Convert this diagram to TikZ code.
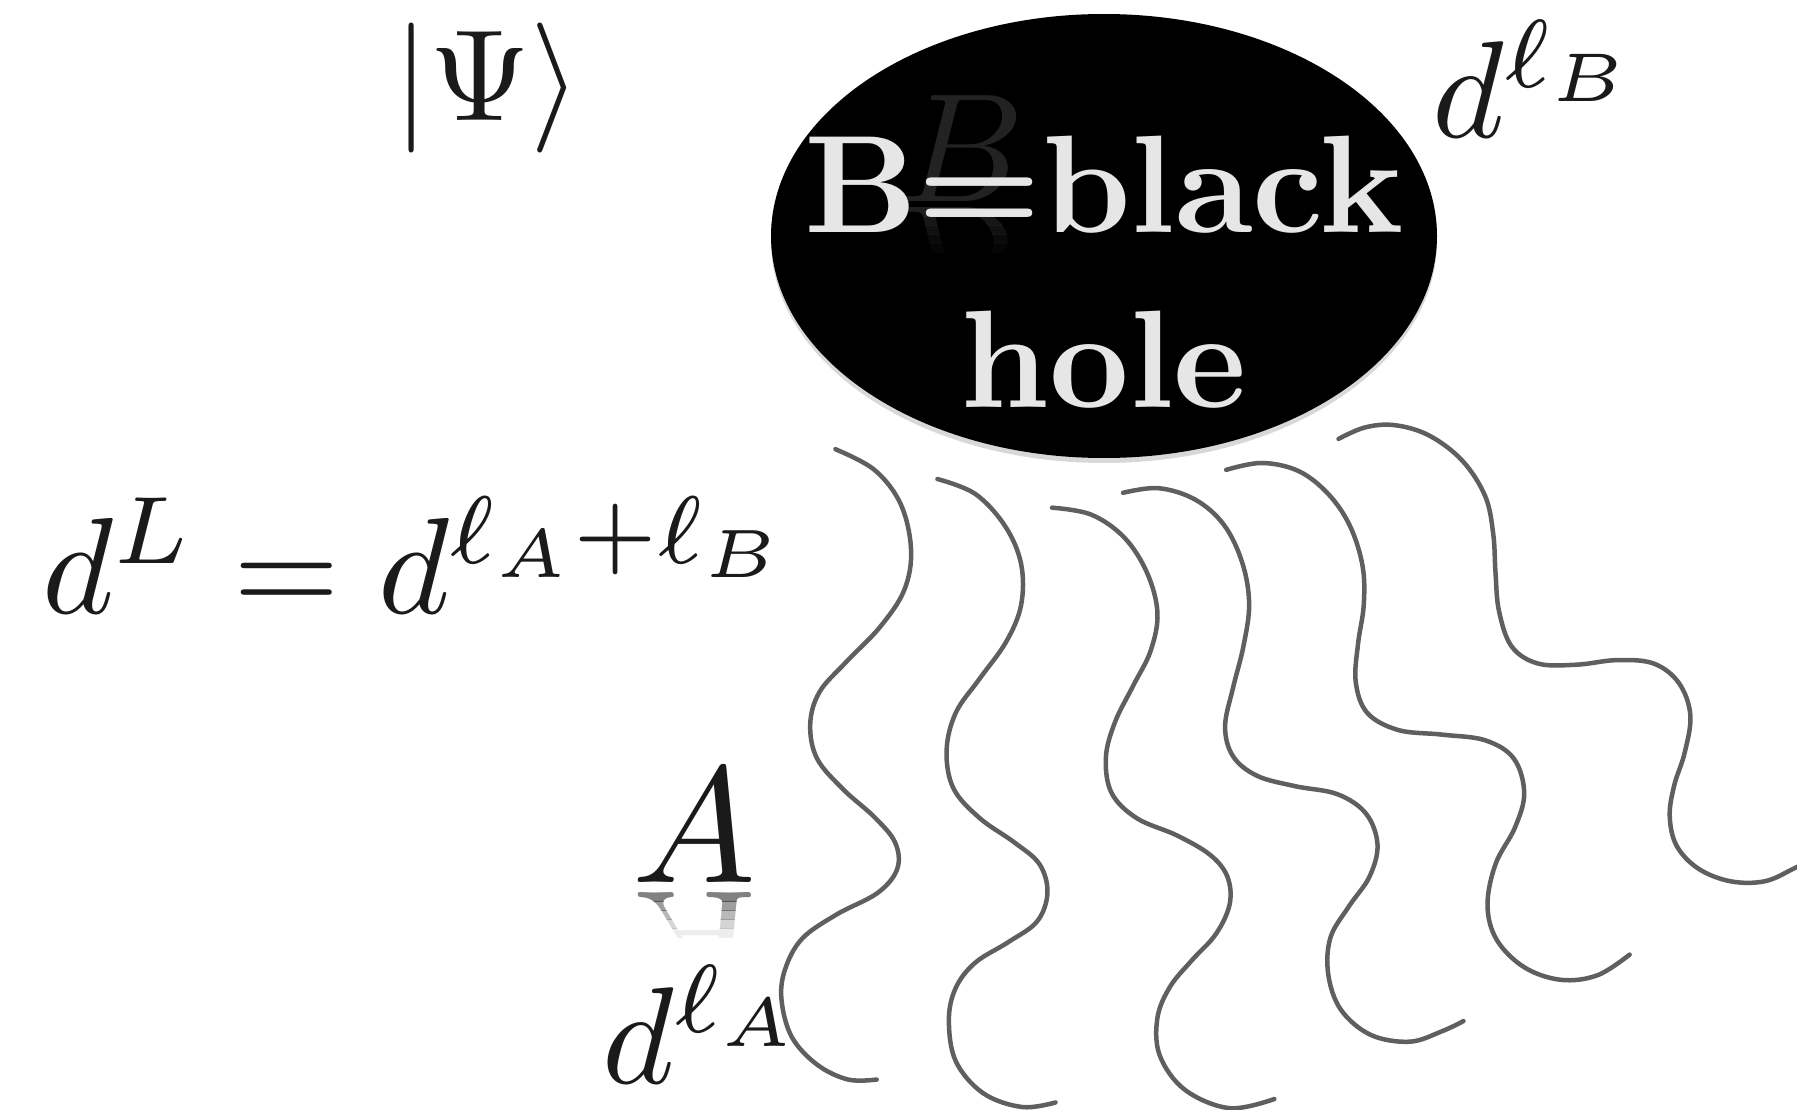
\documentclass[tikz,border=0pt]{standalone}
\usepackage{graphicx}
\usetikzlibrary{shapes.geometric,shadows}
\definecolor{wavecol}{RGB}{95,95,95}
\definecolor{bhtext}{RGB}{230,230,230}
\definecolor{ghostcol}{RGB}{34,34,34}
\definecolor{inkcol}{RGB}{26,26,26}
\begin{document}
\begin{tikzpicture}[x=1pt,y=-1pt,
  wavy/.style={draw=wavecol, line width=4.5pt, line cap=round, line join=round},
  lbl/.style={inner sep=0pt, text=inkcol},
  bhlbl/.style={inner sep=0pt, text=bhtext},
]
\useasboundingbox (0,0) rectangle (1797,1110);
\fill[white] (0,0) rectangle (1797,1110);

% black hole
\node[ellipse, fill=black, minimum width=666pt, minimum height=444pt, inner sep=0pt,
      drop shadow={opacity=0.3, shadow xshift=0pt, shadow yshift=-5pt}] (bh) at (1104,236) {};

% ghost B with fading reflection
\node[inner sep=0pt, text=ghostcol, anchor=base] (ghostB) at (962,202) {\scalebox{15.5}{$B$}};
\foreach \k/\op in {0/0.9,1/0.7,2/0.5,3/0.3,4/0.15}{
  \begin{scope}
    \clip (890,{208+9*\k}) rectangle (1050,{208+9*(\k+1)});
    \node[inner sep=0pt, text=ghostcol, text opacity=\op, anchor=base] (ghostBr\k) at (962,208) {\scalebox{15.5}[-15.5]{$B$}};
  \end{scope}
}

\node[bhlbl, anchor=base] (bh1) at (1104,233) {\scalebox{13.9}{\bfseries B=black}};
\node[bhlbl, anchor=base] (bh2) at (1104,407) {\scalebox{13.9}{\bfseries hole}};

% A with fading reflection
\node[lbl, anchor=base] (A) at (694,882) {\scalebox{16.5}{$A$}};
\foreach \k/\op in {0/0.55,1/0.42,2/0.3,3/0.18,4/0.08}{
  \begin{scope}
    \clip (620,{892+9*\k}) rectangle (775,{892+9*(\k+1)});
    \node[inner sep=0pt, text=inkcol, text opacity=\op, anchor=base] (Ar\k) at (694,892) {\scalebox{16.5}[-16.5]{$A$}};
  \end{scope}
}

% labels
\node[lbl, anchor=base] (psi) at (487,121) {\scalebox{13}{$|\Psi\rangle$}};
\node[lbl, anchor=base west] (eq) at (42,613) {\scalebox{13.7}{$d^L = d^{\ell_A+\ell_B}$}};
\node[lbl, anchor=base west] (dB) at (1432,138) {\scalebox{13.8}{$d^{\ell_B}$}};
\node[lbl, anchor=base west] (dA) at (602,1083) {\scalebox{13.8}{$d^{\ell_A}$}};

% radiation
\begin{scope}[scale=1.146]
\draw[wavy] plot[smooth, tension=0.6] coordinates {(729,392) (763,410) (786,440) (795,480) (789,515) (768,547) (738,578) (715,604) (707,632) (713,662) (736,689) (763,713) (781,735) (783,758) (766,779) (730,798) (700,819) (685,846) (682,873) (691,905) (713,929) (740,942) (765,942)};
\draw[wavy] plot[smooth, tension=0.6] coordinates {(818,418) (851,431) (877,459) (891,492) (891,528) (878,560) (855,592) (834,622) (826,655) (832,688) (855,714) (885,735) (907,754) (914,779) (905,804) (880,822) (851,840) (834,862) (828,890) (834,926) (858,954) (892,966) (921,962)};
\draw[wavy] plot[smooth, tension=0.6] coordinates {(918,443) (952,449) (981,469) (1001,500) (1010,535) (1004,568) (989,598) (973,630) (965,661) (970,692) (992,714) (1027,729) (1056,746) (1071,765) (1073,789) (1061,815) (1040,838) (1021,861) (1010,888) (1012,921) (1034,951) (1073,967) (1112,959)};
\draw[wavy] plot[smooth, tension=0.6] coordinates {(980,430) (1011,426) (1043,436) (1068,458) (1084,491) (1090,527) (1085,564) (1076,600) (1069,634) (1076,660) (1097,677) (1130,686) (1167,693) (1192,710) (1202,737) (1195,765) (1177,791) (1161,818) (1159,850) (1170,881) (1196,903) (1230,909) (1258,900) (1277,891)};
\draw[wavy] plot[smooth, tension=0.6] coordinates {(1070,410) (1101,404) (1133,411) (1159,431) (1178,459) (1189,494) (1190,528) (1185,562) (1183,595) (1193,622) (1220,637) (1258,641) (1296,646) (1321,662) (1330,692) (1322,722) (1305,754) (1298,790) (1306,820) (1330,844) (1362,855) (1394,851) (1422,833)};
\draw[wavy] plot[smooth, tension=0.6] coordinates {(1168,383) (1191,373) (1217,371) (1247,380) (1276,402) (1296,433) (1303,466) (1305,500) (1308,533) (1319,564) (1342,579) (1376,580) (1411,576) (1443,579) (1465,596) (1475,624) (1470,657) (1461,685) (1457,712) (1463,738) (1482,758) (1510,769) (1540,769) (1565,758) (1580,750)};
\end{scope}
\end{tikzpicture}
\end{document}
